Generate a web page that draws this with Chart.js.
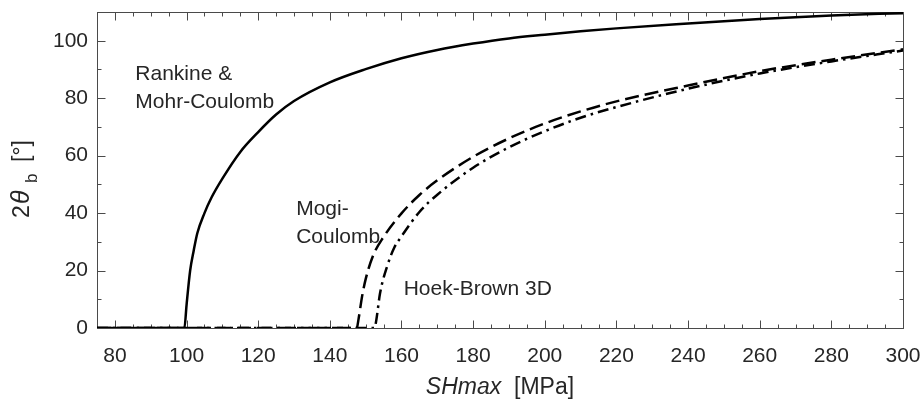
<!DOCTYPE html>
<html>
<head>
<meta charset="utf-8">
<script src="https://cdn.jsdelivr.net/npm/chart.js@4.4.1/dist/chart.umd.min.js"></script>
<style>
  html, body { margin: 0; padding: 0; background: #fff; }
  #wrap { width: 922px; height: 401px; position: relative; }
</style>
</head>
<body>
<div id="wrap"><canvas id="breakout"></canvas></div>
<script>
// tick values
const xTicks = [80, 100, 120, 140, 160, 180, 200, 220, 240, 260, 280, 300];
const yTicks = [0, 20, 40, 60, 80, 100];
const xMinor = [75, 85, 90, 95, 105, 110, 115, 125, 130, 135, 145, 150, 155, 165, 170, 175,
  185, 190, 195, 205, 210, 215, 225, 230, 235, 245, 250, 255, 265, 270, 275, 285, 290, 295];
const yMinor = [10, 30, 50, 70, 90];

// Rankine & Mohr-Coulomb
const rankineX = [75, 99.4, 100, 101, 102, 103, 105, 107, 110, 115, 120, 125, 130, 140, 150,
  160, 170, 180, 190, 200, 210, 220, 240, 260, 280, 300];
const rankineY = [0, 0, 8, 20, 27, 33, 40, 45.5, 52, 61.3, 68.2, 74.3, 79, 85.5, 90.1,
  93.9, 96.8, 99, 100.8, 102.1, 103.3, 104.3, 106, 107.6, 108.8, 109.6];

// Mogi-Coulomb
const mogiX = [75, 147.5, 148, 149, 150, 152, 155, 160, 165, 170, 180, 190, 200, 210, 220,
  240, 260, 280, 300];
const mogiY = [0, 0, 3, 11, 17, 25, 31.7, 39.9, 46.3, 51.4, 59.6, 66, 71.2, 75.4, 78.9,
  84.4, 89.4, 93.4, 97];

// Hoek-Brown 3D
const hoekX = [75, 152.5, 153, 154, 156, 158, 160, 165, 170, 180, 190, 200, 210, 220,
  240, 260, 280, 300];
const hoekY = [0, 0, 3, 12, 21.5, 28, 31.9, 40.4, 46.4, 55.8, 62.9, 68.5, 73.2, 76.9,
  83.3, 88.6, 92.8, 96.6];

const FONT = "'Liberation Sans', Arial, Helvetica, sans-serif";
const INK = "#262626";
const FRAME = "#4a4a4a";

const pts = (xs, ys) => xs.map((x, i) => ({ x, y: ys[i] }));

// axes box with inward major/minor ticks on all four sides
const axesBox = {
  id: "axesBox",
  beforeDatasetsDraw(chart) {
    const { ctx, chartArea: a, scales: { x, y } } = chart;
    const L = Math.round(a.left) + 0.5, R = Math.round(a.right) + 0.5;
    const T = Math.round(a.top) + 0.5, B = Math.round(a.bottom) + 0.5;
    ctx.save();
    ctx.strokeStyle = FRAME;
    ctx.lineWidth = 1;
    ctx.strokeRect(L, T, R - L, B - T);
    ctx.beginPath();
    const xt = (v, len) => {
      const px = Math.round(x.getPixelForValue(v)) + 0.5;
      ctx.moveTo(px, B); ctx.lineTo(px, B - len);
      ctx.moveTo(px, T); ctx.lineTo(px, T + len);
    };
    const yt = (v, len) => {
      const py = Math.round(y.getPixelForValue(v)) + 0.5;
      ctx.moveTo(L, py); ctx.lineTo(L + len, py);
      ctx.moveTo(R, py); ctx.lineTo(R - len, py);
    };
    xTicks.forEach(v => xt(v, 8));
    xMinor.forEach(v => xt(v, 4));
    yTicks.forEach(v => yt(v, 8));
    yMinor.forEach(v => yt(v, 4));
    ctx.stroke();
    ctx.restore();
  }
};

// axis titles and curve names
const labels = {
  id: "labels",
  afterDraw(chart) {
    const { ctx, chartArea: a, scales: { x, y } } = chart;
    ctx.save();
    ctx.fillStyle = INK;
    ctx.textBaseline = "alphabetic";
    ctx.textAlign = "left";

    // x title: italic symbol + unit
    const fIt = "italic 23px " + FONT, fUp = "23px " + FONT;
    ctx.font = fIt;
    const w1 = ctx.measureText("SHmax").width;
    ctx.font = fUp;
    const w2 = ctx.measureText("  [MPa]").width;
    let sx = (a.left + a.right) / 2 - (w1 + w2) / 2;
    ctx.font = fIt; ctx.fillText("SHmax", sx, 394);
    ctx.font = fUp; ctx.fillText("  [MPa]", sx + w1, 394);

    // y title: 2θ_b [°], rotated
    ctx.translate(29, 218);
    ctx.rotate(-Math.PI / 2);
    ctx.font = "23px " + FONT; ctx.fillText("2", 0, 0);
    ctx.font = "italic 25px " + FONT; ctx.fillText("\u03b8", 14, 0);
    ctx.font = "17px " + FONT; ctx.fillText("b", 35, 8);
    ctx.font = "23px " + FONT; ctx.fillText("[\u00b0]", 56, 0);
    ctx.setTransform(1, 0, 0, 1, 0, 0);

    // curve names placed in data coordinates
    ctx.font = "21px " + FONT;
    const put = (lines, vx, vy) => {
      const px = x.getPixelForValue(vx), py = y.getPixelForValue(vy);
      lines.forEach((s, i) => ctx.fillText(s, px, py + i * 28));
    };
    put(["Rankine &", "Mohr-Coulomb"], 85.7, 86.3);
    put(["Mogi-", "Coulomb"], 130.6, 39.4);
    put(["Hoek-Brown 3D"], 160.6, 11.5);
    ctx.restore();
  }
};

const tickFont = { family: FONT, size: 21 };

new Chart(document.getElementById("breakout").getContext("2d"), {
  type: "scatter",
  data: {
    datasets: [
      {
        label: "Rankine & Mohr-Coulomb",
        data: pts(rankineX, rankineY),
        borderColor: "#000",
        borderWidth: 2.5,
      },
      {
        label: "Mogi-Coulomb",
        data: pts(mogiX, mogiY),
        borderColor: "#000",
        borderWidth: 2.5,
        borderDash: [14, 6],
      },
      {
        label: "Hoek-Brown 3D",
        data: pts(hoekX, hoekY),
        borderColor: "#000",
        borderWidth: 2.5,
        borderDash: [11, 5, 2.5, 5],
      },
    ],
  },
  options: {
    responsive: true,
    maintainAspectRatio: false,
    animation: false,
    showLine: true,
    elements: {
      point: { radius: 0, hoverRadius: 0 },
      line: { cubicInterpolationMode: "monotone", borderCapStyle: "butt", fill: false },
    },
    layout: { autoPadding: false, padding: { left: 0, right: 19, top: 12, bottom: 0 } },
    plugins: { legend: { display: false }, tooltip: { enabled: false } },
    scales: {
      x: {
        type: "linear",
        min: 75,
        max: 300,
        grid: { display: false, drawTicks: false },
        border: { display: false },
        afterBuildTicks: (s) => { s.ticks = xTicks.map(v => ({ value: v })); },
        afterFit: (s) => { s.height = 73; s.paddingLeft = 0; s.paddingRight = 0; },
        ticks: { color: INK, font: tickFont, padding: 16, maxRotation: 0, autoSkip: false },
      },
      y: {
        type: "linear",
        min: 0,
        max: 110,
        grid: { display: false, drawTicks: false },
        border: { display: false },
        afterBuildTicks: (s) => { s.ticks = yTicks.map(v => ({ value: v })); },
        afterFit: (s) => { s.width = 97; s.paddingTop = 0; s.paddingBottom = 0; },
        ticks: { color: INK, font: tickFont, padding: 9 },
      },
    },
  },
  plugins: [axesBox, labels],
});
</script>
</body>
</html>
